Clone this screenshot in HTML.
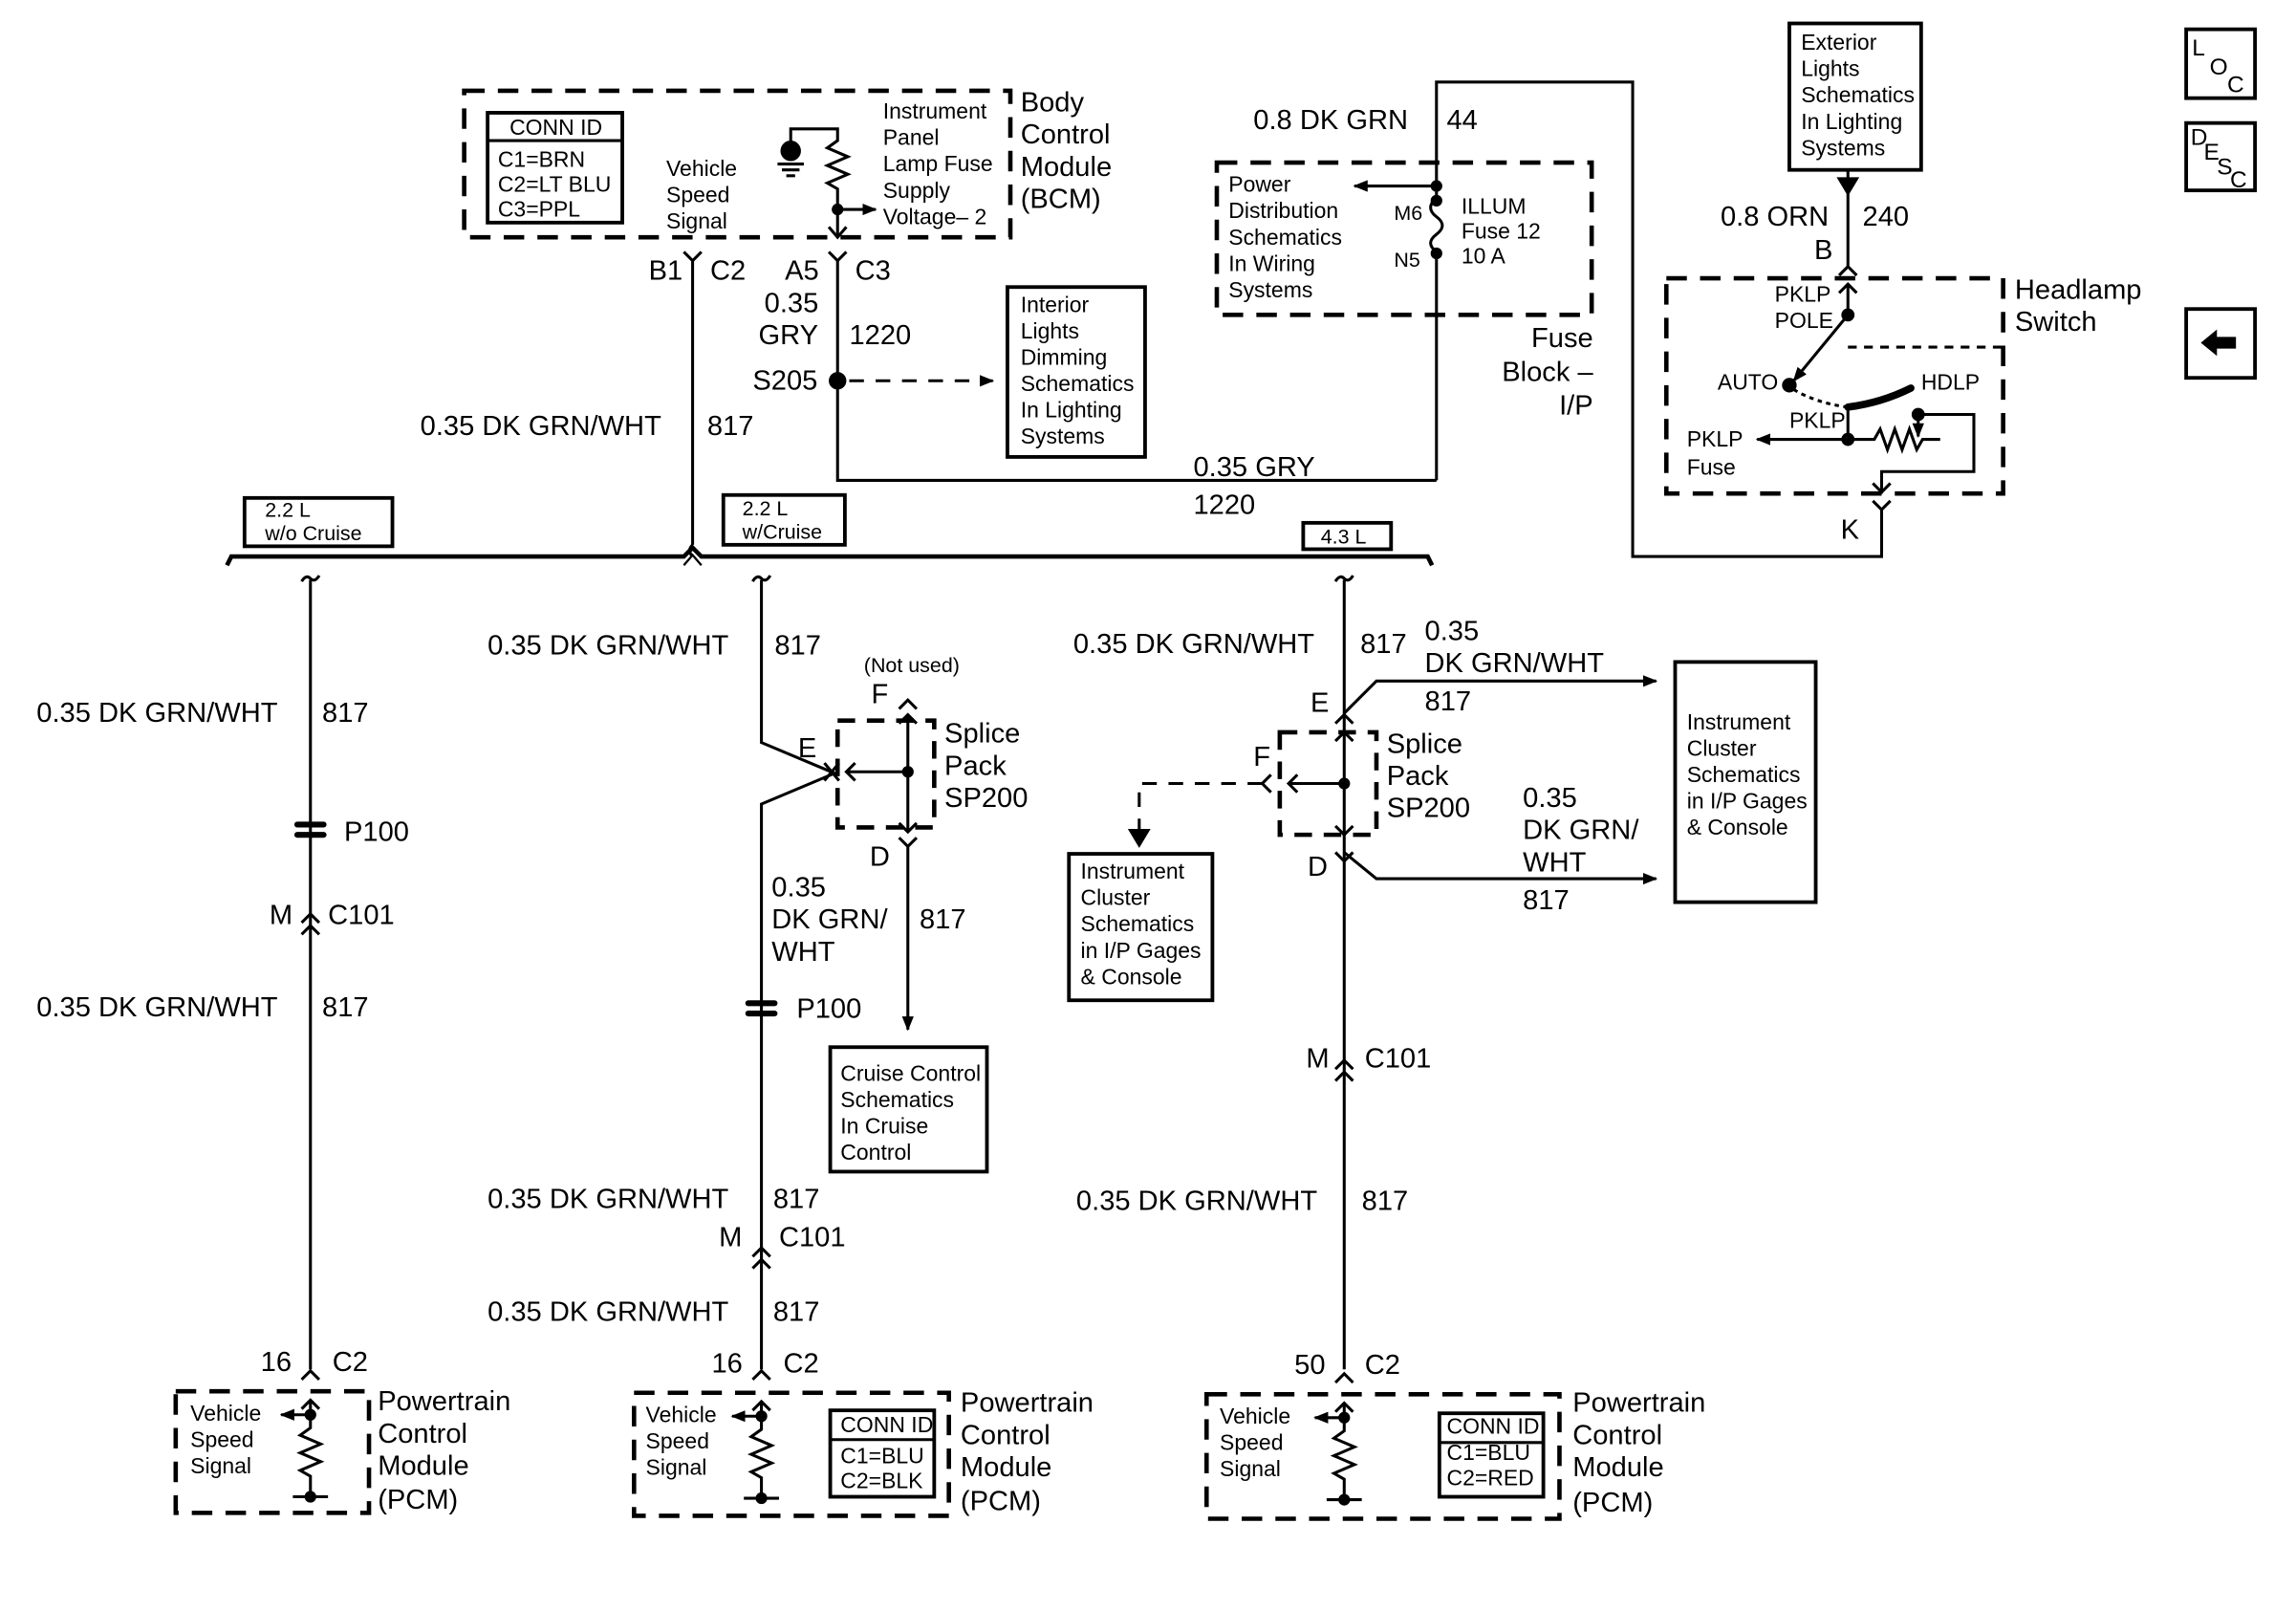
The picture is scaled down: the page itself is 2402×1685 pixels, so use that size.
<!DOCTYPE html>
<html><head><meta charset="utf-8"><style>
html,body{margin:0;padding:0;background:#fff;}
svg{display:block;}
text{font-family:"Liberation Sans",Arial,sans-serif;fill:#000;}
.L{font-size:19px;}
.S{font-size:14px;}
.M{font-size:15px;}
</style></head><body>
<svg width="2402" height="1685" viewBox="0 0 1568 1100" preserveAspectRatio="none" xmlns="http://www.w3.org/2000/svg">
<defs>
<marker id="ar" markerWidth="10" markerHeight="8" refX="9" refY="4" orient="auto" markerUnits="userSpaceOnUse"><path d="M0,0 L10,4 L0,8 Z" fill="#000"/></marker>
</defs>
<g fill="none" stroke="#000" stroke-width="2">

<!-- BCM -->
<rect x="317" y="62" width="373" height="100" stroke-width="3" stroke-dasharray="14,9"/>
<rect x="333" y="77" width="92" height="75" stroke-width="2.5"/>
<line x1="333" y1="96" x2="425" y2="96"/>
<path d="M540,100 V88 H572 V96 l-7,5 l14,6 l-14,6 l14,6 l-14,6 l7,4 V162"/>
<circle cx="540" cy="103" r="6" fill="#000"/>
<line x1="531" y1="112" x2="549" y2="112"/><line x1="534" y1="116" x2="546" y2="116"/><line x1="537" y1="120" x2="543" y2="120"/>
<circle cx="572" cy="143" r="3" fill="#000"/>
<line x1="572" y1="143" x2="598" y2="143" marker-end="url(#ar)"/>
<path d="M566,155 L572,162 L578,155"/>
<path d="M467,172 L473,178 L479,172 M473,178 V372"/>
<path d="M566,172 L572,178 L578,172 M572,178 V328 H981"/>
<circle cx="572" cy="260" r="5" fill="#000"/>
<line x1="580" y1="260" x2="678" y2="260" stroke-dasharray="10,8" marker-end="url(#ar)"/>
<rect x="688" y="196" width="94" height="116" stroke-width="2.5"/>
<path d="M473,372 q-4,4 0,8"/>
<path d="M467,386 l6,-7 l6,7" stroke-width="1.5"/>

<!-- Fuse block -->
<rect x="831" y="111" width="256" height="104" stroke-width="3" stroke-dasharray="14,9"/>
<path d="M981,328 V172 q-8,-6 0,-12 q8,-6 0,-12 q-8,-6 0,-13 V56 H1115 V380 H1285 V348"/>
<circle cx="981" cy="127" r="3" fill="#000"/>
<circle cx="981" cy="137" r="3" fill="#000"/>
<circle cx="981" cy="173" r="3" fill="#000"/>
<line x1="981" y1="127" x2="925" y2="127" marker-end="url(#ar)"/>

<!-- Exterior lights -->
<rect x="1222" y="16" width="90" height="100" stroke-width="2.5"/>
<path d="M1262,116 V130"/><path d="M1256,122 L1262,132 L1268,122 Z" fill="#000"/>
<path d="M1262,132 V182 M1256,188 l6,-6 l6,6"/>
<!-- Headlamp switch -->
<rect x="1138" y="190" width="230" height="147" stroke-width="3" stroke-dasharray="14,9"/>
<line x1="1262" y1="237" x2="1368" y2="237" stroke-dasharray="6,5"/>
<path d="M1256,200 l6,-6 l6,6 M1262,194 V215"/>
<circle cx="1262" cy="215" r="3.5" fill="#000"/>
<line x1="1262" y1="215" x2="1225" y2="260" marker-end="url(#ar)"/>
<circle cx="1222" cy="263" r="4" fill="#000"/>
<path d="M1225,266 Q1240,275 1262,278" stroke-dasharray="3,3"/>
<path d="M1262,278 Q1285,275 1305,265" stroke-width="5" stroke-linecap="round"/>
<path d="M1262,278 V300 H1200" marker-end="url(#ar)"/>
<circle cx="1262" cy="300" r="3.5" fill="#000"/>
<path d="M1262,300 H1280 l4,-7 l5,14 l5,-14 l5,14 l5,-14 l5,14 l4,-7 H1325"/>
<circle cx="1310" cy="283" r="3.5" fill="#000"/>
<line x1="1310" y1="283" x2="1310" y2="298" marker-end="url(#ar)"/>
<path d="M1310,283 H1348 V322 H1285 V337 M1279,330 l6,6 l6,-6"/>
<path d="M1279,342 l6,6 l6,-6"/>

<!-- Bus -->
<path d="M155,386 l3,-6 H467 l6,-6 l6,6 H975 l3,6" stroke-width="3"/>
<rect x="167" y="340" width="101" height="33" stroke-width="2.5"/>
<rect x="494" y="338" width="83" height="34" stroke-width="2.5"/>
<rect x="890" y="357" width="60" height="18" stroke-width="2.5"/>

<!-- Column 1 -->
<path d="M206,397 q3,-5 6,-2 q3,3 6,-2 M212,396 V935"/>
<rect x="201" y="561" width="22" height="4" fill="#000" stroke="none" rx="2"/>
<rect x="201" y="568" width="22" height="4" fill="#000" stroke="none" rx="2"/>
<path d="M206,630 l6,-6 l6,6 M206,638 l6,-6 l6,6"/>
<path d="M206,942 l6,-6 l6,6"/>
<rect x="120" y="950" width="132" height="83" stroke-width="3" stroke-dasharray="14,9"/>
<path d="M206,962 l6,-6 l6,6 M212,956 V975 l-7,5 l14,6 l-14,6 l14,6 l-14,6 l7,4 V1022 M200,1022 H224"/>
<circle cx="212" cy="966" r="3" fill="#000"/><circle cx="212" cy="1022" r="3" fill="#000"/>
<line x1="212" y1="966" x2="192" y2="966" marker-end="url(#ar)"/>

<!-- Column 2 -->
<path d="M514,397 q3,-5 6,-2 q3,3 6,-2 M520,396 V507 L570,528 L520,549 V935"/>
<path d="M563,521 l10,12 M573,521 l-10,12"/>
<rect x="572" y="492" width="66" height="73" stroke-width="3" stroke-dasharray="12,8"/>
<path d="M620,488 V568 M614,494 l6,-6 l6,6 M614,562 l6,6 l6,-6 M620,527 H578 M584,521 l-6,6 l6,6"/>
<circle cx="620" cy="527" r="3" fill="#000"/>
<path d="M614,484 l6,-6 l6,6"/>
<path d="M614,572 l6,6 l6,-6 M620,578 V703" marker-end="url(#ar)"/>
<rect x="509" y="683" width="22" height="4" fill="#000" stroke="none" rx="2"/>
<rect x="509" y="690" width="22" height="4" fill="#000" stroke="none" rx="2"/>
<rect x="567" y="715" width="107" height="85" stroke-width="2.5"/>
<path d="M514,858 l6,-6 l6,6 M514,866 l6,-6 l6,6"/>
<path d="M514,942 l6,-6 l6,6"/>
<rect x="433" y="951" width="215" height="84" stroke-width="3" stroke-dasharray="14,9"/>
<path d="M514,963 l6,-6 l6,6 M520,957 V976 l-7,5 l14,6 l-14,6 l14,6 l-14,6 l7,4 V1023 M508,1023 H532"/>
<circle cx="520" cy="967" r="3" fill="#000"/><circle cx="520" cy="1023" r="3" fill="#000"/>
<line x1="520" y1="967" x2="500" y2="967" marker-end="url(#ar)"/>
<rect x="567" y="963" width="71" height="59" stroke-width="2.5"/>
<line x1="567" y1="983" x2="638" y2="983"/>

<!-- Column 3 -->
<path d="M912,397 q3,-5 6,-2 q3,3 6,-2 M918,396 V935"/>
<path d="M918,487 L940,465 H1131" marker-end="url(#ar)"/>
<path d="M912,494 l6,-6 l6,6 M912,582 l6,6 l6,-6"/>
<path d="M918,582 L940,600 H1131" marker-end="url(#ar)"/>
<rect x="874" y="500" width="66" height="70" stroke-width="3" stroke-dasharray="12,8"/>
<path d="M912,506 l6,-6 l6,6 M912,564 l6,6 l6,-6 M918,535 H880 M886,529 l-6,6 l6,6"/>
<circle cx="918" cy="535" r="3" fill="#000"/>
<path d="M868,529 l-6,6 l6,6"/>
<path d="M862,535 H778 V573" stroke-dasharray="10,8"/>
<path d="M772,567 L778,577 L784,567 Z" fill="#000"/>
<rect x="730" y="583" width="98" height="100" stroke-width="2.5"/>
<rect x="1144" y="452" width="96" height="164" stroke-width="2.5"/>
<path d="M912,730 l6,-6 l6,6 M912,738 l6,-6 l6,6"/>
<path d="M912,944 l6,-6 l6,6"/>
<rect x="824" y="952" width="241" height="85" stroke-width="3" stroke-dasharray="14,9"/>
<path d="M912,964 l6,-6 l6,6 M918,958 V977 l-7,5 l14,6 l-14,6 l14,6 l-14,6 l7,4 V1024 M906,1024 H930"/>
<circle cx="918" cy="968" r="3" fill="#000"/><circle cx="918" cy="1024" r="3" fill="#000"/>
<line x1="918" y1="968" x2="898" y2="968" marker-end="url(#ar)"/>
<rect x="983" y="965" width="71" height="57" stroke-width="2.5"/>
<line x1="983" y1="985" x2="1054" y2="985"/>

<!-- Icons -->
<rect x="1493" y="20" width="47" height="47" stroke-width="2.5"/>
<rect x="1493" y="84" width="47" height="46" stroke-width="2.5"/>
<rect x="1493" y="211" width="47" height="47" stroke-width="2.5"/>
<path d="M1503,234 L1514,225 V230 H1527 V238 H1514 V243 Z" fill="#000" stroke="none"/>
</g>

<g class="M">
<text x="348" y="92">CONN ID</text>
<text x="340" y="114">C1=BRN</text>
<text x="340" y="131">C2=LT BLU</text>
<text x="340" y="148">C3=PPL</text>
<text x="455" y="120">Vehicle</text>
<text x="455" y="138">Speed</text>
<text x="455" y="156">Signal</text>
<text x="603" y="81">Instrument</text>
<text x="603" y="99">Panel</text>
<text x="603" y="117">Lamp Fuse</text>
<text x="603" y="135">Supply</text>
<text x="603" y="153">Voltage– 2</text>
<text x="697" y="213">Interior</text>
<text x="697" y="231">Lights</text>
<text x="697" y="249">Dimming</text>
<text x="697" y="267">Schematics</text>
<text x="697" y="285">In Lighting</text>
<text x="697" y="303">Systems</text>
<text x="839" y="131">Power</text>
<text x="839" y="149">Distribution</text>
<text x="839" y="167">Schematics</text>
<text x="839" y="185">In Wiring</text>
<text x="839" y="203">Systems</text>
<text x="952" y="150" class="S">M6</text>
<text x="952" y="182" class="S">N5</text>
<text x="998" y="146">ILLUM</text>
<text x="998" y="163">Fuse 12</text>
<text x="998" y="180">10 A</text>
<text x="1230" y="34">Exterior</text>
<text x="1230" y="52">Lights</text>
<text x="1230" y="70">Schematics</text>
<text x="1230" y="88">In Lighting</text>
<text x="1230" y="106">Systems</text>
<text x="1212" y="206">PKLP</text>
<text x="1212" y="224">POLE</text>
<text x="1173" y="266">AUTO</text>
<text x="1312" y="266">HDLP</text>
<text x="1222" y="292">PKLP</text>
<text x="1152" y="305">PKLP</text>
<text x="1152" y="324">Fuse</text>
<text x="181" y="353" class="S">2.2 L</text>
<text x="181" y="369" class="S">w/o Cruise</text>
<text x="507" y="352" class="S">2.2 L</text>
<text x="507" y="368" class="S">w/Cruise</text>
<text x="902" y="371" class="S">4.3 L</text>
<text x="590" y="459" class="S">(Not used)</text>
<text x="574" y="738">Cruise Control</text>
<text x="574" y="756">Schematics</text>
<text x="574" y="774">In Cruise</text>
<text x="574" y="792">Control</text>
<text x="738" y="600">Instrument</text>
<text x="738" y="618">Cluster</text>
<text x="738" y="636">Schematics</text>
<text x="738" y="654">in I/P Gages</text>
<text x="738" y="672">&amp; Console</text>
<text x="1152" y="498">Instrument</text>
<text x="1152" y="516">Cluster</text>
<text x="1152" y="534">Schematics</text>
<text x="1152" y="552">in I/P Gages</text>
<text x="1152" y="570">&amp; Console</text>
<text x="130" y="970">Vehicle</text>
<text x="130" y="988">Speed</text>
<text x="130" y="1006">Signal</text>
<text x="441" y="971">Vehicle</text>
<text x="441" y="989">Speed</text>
<text x="441" y="1007">Signal</text>
<text x="574" y="978">CONN ID</text>
<text x="574" y="999">C1=BLU</text>
<text x="574" y="1016">C2=BLK</text>
<text x="833" y="972">Vehicle</text>
<text x="833" y="990">Speed</text>
<text x="833" y="1008">Signal</text>
<text x="988" y="979">CONN ID</text>
<text x="988" y="997">C1=BLU</text>
<text x="988" y="1014">C2=RED</text>
</g>
<g class="L">
<text x="697" y="76">Body</text>
<text x="697" y="98">Control</text>
<text x="697" y="120">Module</text>
<text x="697" y="142">(BCM)</text>
<text x="443" y="191">B1</text><text x="485" y="191">C2</text>
<text x="536" y="191">A5</text><text x="584" y="191">C3</text>
<text x="522" y="213">0.35</text>
<text x="518" y="235">GRY</text><text x="580" y="235">1220</text>
<text x="514" y="266">S205</text>
<text x="287" y="297">0.35 DK GRN/WHT</text><text x="483" y="297">817</text>
<text x="815" y="325">0.35 GRY</text>
<text x="815" y="351">1220</text>
<text x="856" y="88">0.8 DK GRN</text><text x="988" y="88">44</text>
<text x="1088" y="237" text-anchor="end">Fuse</text>
<text x="1088" y="260" text-anchor="end">Block –</text>
<text x="1088" y="283" text-anchor="end">I/P</text>
<text x="1175" y="154">0.8 ORN</text><text x="1272" y="154">240</text>
<text x="1239" y="177">B</text>
<text x="1376" y="204">Headlamp</text>
<text x="1376" y="226">Switch</text>
<text x="1257" y="368">K</text>
<text x="25" y="493">0.35 DK GRN/WHT</text><text x="220" y="493">817</text>
<text x="235" y="574">P100</text>
<text x="184" y="631">M</text><text x="224" y="631">C101</text>
<text x="25" y="694">0.35 DK GRN/WHT</text><text x="220" y="694">817</text>
<text x="178" y="936">16</text><text x="227" y="936">C2</text>
<text x="258" y="963">Powertrain</text>
<text x="258" y="985">Control</text>
<text x="258" y="1007">Module</text>
<text x="258" y="1030">(PCM)</text>
<text x="333" y="447">0.35 DK GRN/WHT</text><text x="529" y="447">817</text>
<text x="595" y="480">F</text>
<text x="545" y="517">E</text>
<text x="645" y="507">Splice</text>
<text x="645" y="529">Pack</text>
<text x="645" y="551">SP200</text>
<text x="594" y="591">D</text>
<text x="527" y="612">0.35</text>
<text x="527" y="634">DK GRN/</text><text x="628" y="634">817</text>
<text x="527" y="656">WHT</text>
<text x="544" y="695">P100</text>
<text x="333" y="825">0.35 DK GRN/WHT</text><text x="528" y="825">817</text>
<text x="491" y="851">M</text><text x="532" y="851">C101</text>
<text x="333" y="902">0.35 DK GRN/WHT</text><text x="528" y="902">817</text>
<text x="486" y="937">16</text><text x="535" y="937">C2</text>
<text x="656" y="964">Powertrain</text>
<text x="656" y="986">Control</text>
<text x="656" y="1008">Module</text>
<text x="656" y="1031">(PCM)</text>
<text x="733" y="446">0.35 DK GRN/WHT</text><text x="929" y="446">817</text>
<text x="973" y="437">0.35</text>
<text x="973" y="459">DK GRN/WHT</text>
<text x="973" y="485">817</text>
<text x="895" y="486">E</text>
<text x="856" y="523">F</text>
<text x="947" y="514">Splice</text>
<text x="947" y="536">Pack</text>
<text x="947" y="558">SP200</text>
<text x="893" y="598">D</text>
<text x="1040" y="551">0.35</text>
<text x="1040" y="573">DK GRN/</text>
<text x="1040" y="595">WHT</text>
<text x="1040" y="621">817</text>
<text x="892" y="729">M</text><text x="932" y="729">C101</text>
<text x="735" y="826">0.35 DK GRN/WHT</text><text x="930" y="826">817</text>
<text x="884" y="938">50</text><text x="932" y="938">C2</text>
<text x="1074" y="964">Powertrain</text>
<text x="1074" y="986">Control</text>
<text x="1074" y="1008">Module</text>
<text x="1074" y="1032">(PCM)</text>
</g>
<g style="font-size:16px">
<text x="1497" y="38">L</text><text x="1509" y="51">O</text><text x="1521" y="63">C</text>
<text x="1496" y="99">D</text><text x="1505" y="109">E</text><text x="1514" y="119">S</text><text x="1523" y="128">C</text>
</g>
</svg>
</body></html>
